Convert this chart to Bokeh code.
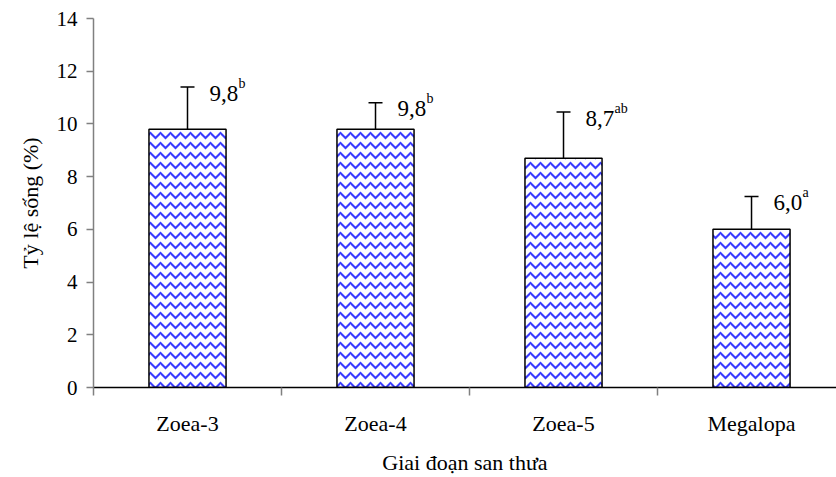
from bokeh.plotting import figure
from bokeh.models import ColumnDataSource, Range1d, FixedTicker, Whisker, TeeHead
from bokeh.core.properties import value
from bokeh.embed import file_html
from bokeh.resources import INLINE

categories = ["Zoea-3", "Zoea-4", "Zoea-5", "Megalopa"]
means = [9.8, 9.8, 8.7, 6.0]
errors = [1.6, 1.0, 1.75, 1.25]
letters = ["b", "b", "ab", "a"]
y_ticks = [0, 2, 4, 6, 8, 10, 12, 14]

xs = [i + 0.5 for i in range(len(categories))]
upper = [m + e for m, e in zip(means, errors)]
labels = [f"{m:.1f}".replace(".", ",") for m in means]

src = ColumnDataSource(dict(x=xs, top=means, upper=upper, label=labels, sup=letters))

FONT = "Liberation Serif"

p = figure(width=836, height=477, output_backend="svg", toolbar_location=None,
           x_range=Range1d(0, 3.952), y_range=Range1d(0, 14),
           min_border_left=93, min_border_right=0, min_border_top=18, min_border_bottom=90)
p.outline_line_color = None
p.xgrid.visible = False
p.ygrid.visible = False
p.background_fill_color = "white"

p.vbar(x="x", top="top", bottom=0, width=0.41, source=src,
       fill_color="white", line_color="black", line_width=1.5,
       hatch_pattern="horizontal_wave", hatch_color="#3b3bff",
       hatch_scale=10, hatch_weight=2)

w = Whisker(base="x", lower="top", upper="upper", source=src, dimension="height",
            line_color="black", line_width=1.5,
            upper_head=TeeHead(size=14, line_color="black", line_width=1.5),
            lower_head=None)
p.add_layout(w)

p.text(x="x", y="upper", text="label", source=src, x_offset=22, y_offset=6,
       text_font=value(FONT), text_font_size="23px", text_baseline="middle",
       text_align="left", text_color="black")
p.text(x="x", y="upper", text="sup", source=src, x_offset=51, y_offset=-4,
       text_font=value(FONT), text_font_size="14px", text_baseline="middle",
       text_align="left", text_color="black")

# y axis
ya = p.yaxis[0]
ya.ticker = FixedTicker(ticks=y_ticks, minor_ticks=[])
ya.axis_line_color = "#808080"
ya.axis_line_width = 1.5
ya.major_tick_line_color = "#808080"
ya.major_tick_line_width = 1.5
ya.major_tick_out = 7
ya.major_tick_in = 0
ya.major_label_standoff = 9
ya.major_label_text_font = FONT
ya.major_label_text_font_size = "21px"
ya.major_label_text_color = "black"
ya.axis_label = "Tỷ lệ sống (%)"
ya.axis_label_text_font = FONT
ya.axis_label_text_font_size = "22px"
ya.axis_label_text_font_style = "normal"
ya.axis_label_text_color = "black"
ya.axis_label_standoff = 11

# x axis
xa = p.xaxis[0]
xa.ticker = FixedTicker(ticks=xs, minor_ticks=list(range(len(categories) + 1)))
xa.major_label_overrides = {x: c for x, c in zip(xs, categories)}
xa.axis_line_color = "black"
xa.axis_line_width = 1.5
xa.major_tick_line_color = None
xa.major_tick_out = 0
xa.major_tick_in = 0
xa.minor_tick_line_color = "#808080"
xa.minor_tick_line_width = 1.5
xa.minor_tick_out = 8
xa.minor_tick_in = 0
xa.major_label_standoff = 15
xa.major_label_text_font = FONT
xa.major_label_text_font_size = "22px"
xa.major_label_text_color = "black"
xa.axis_label = "Giai đoạn san thưa"
xa.axis_label_text_font = FONT
xa.axis_label_text_font_size = "22px"
xa.axis_label_text_font_style = "normal"
xa.axis_label_text_color = "black"
xa.axis_label_standoff = 11

open("out.html", "w").write(file_html(p, INLINE))
